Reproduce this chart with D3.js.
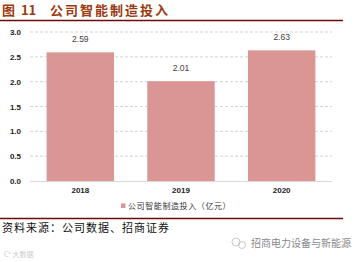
<!DOCTYPE html>
<html><head><meta charset="utf-8">
<script src="https://cdn.jsdelivr.net/npm/d3@7/dist/d3.min.js"></script>
<style>body{margin:0;background:#fff}svg{display:block}</style>
</head><body>
<svg id="c" width="362" height="262"></svg>
<script>
const categories = ["2018", "2019", "2020"];
const values = [2.59, 2.01, 2.63];
const yTicks = [0, 0.5, 1.0, 1.5, 2.0, 2.5, 3.0];
const seriesName = "公司智能制造投入（亿元）";
const titleNum = "图\u00a0\u00a011";
const titleText = "公司智能制造投入";
const sourceText = "资料来源：公司数据、招商证券";
const watermark = "招商电力设备与新能源";

const svg = d3.select("#c");
const cjk = "'Noto Sans CJK SC', 'Noto Sans', sans-serif";
const x = d3.scaleBand().domain(categories).range([30, 332]).paddingInner(0.33).paddingOuter(0.165);
const y = d3.scaleLinear().domain([0, 3]).range([181, 32]);

// title
svg.append("text").attr("x", 2).attr("y", 15).attr("font-family", cjk).attr("font-weight", "bold")
  .attr("font-size", 13).attr("fill", "#9c3a10").text(titleNum);
svg.append("text").attr("x", 50).attr("y", 15).attr("font-family", cjk).attr("font-weight", "bold")
  .attr("font-size", 13).attr("letter-spacing", 2).attr("fill", "#9c3a10").text(titleText);
svg.append("line").attr("x1", 0).attr("x2", 343).attr("y1", 20.5).attr("y2", 20.5)
  .attr("stroke", "#6e0b0b").attr("stroke-width", 1.5);

// grid
const grid = svg.append("g");
yTicks.filter(d => d > 0).forEach(t => {
  grid.append("line").attr("x1", 30).attr("x2", 332).attr("y1", y(t)).attr("y2", y(t))
    .attr("stroke", "#c8c8c8").attr("stroke-width", 0.8).attr("stroke-dasharray", "3,2");
});

// y axis
const yAxis = d3.axisLeft(y).tickValues(yTicks).tickFormat(d3.format(".1f")).tickSize(0).tickPadding(0);
const yg = svg.append("g").attr("transform", "translate(21,0)").call(yAxis);
yg.select(".domain").remove();
yg.selectAll("text").attr("font-family", "Arial, 'Liberation Sans', sans-serif").attr("font-size", 8)
  .attr("font-weight", "bold").attr("fill", "#222");

// bars
svg.append("g").selectAll("rect").data(values).join("rect")
  .attr("x", (d, i) => x(categories[i])).attr("width", x.bandwidth())
  .attr("y", d => y(d)).attr("height", d => y(0) - y(d)).attr("fill", "#d99694");

// baseline
svg.append("line").attr("x1", 30).attr("x2", 332).attr("y1", y(0) + 0.5).attr("y2", y(0) + 0.5)
  .attr("stroke", "#d9d9d9").attr("stroke-width", 1);

// value labels
svg.append("g").selectAll("text").data(values).join("text")
  .attr("x", (d, i) => x(categories[i]) + x.bandwidth() / 2).attr("y", d => y(d) - 10)
  .attr("text-anchor", "middle").attr("font-family", "Arial, 'Liberation Sans', sans-serif")
  .attr("font-size", 8.5).attr("fill", "#404040").text(d => d.toFixed(2));

// x axis
const xAxis = d3.axisBottom(x).tickSize(0).tickPadding(0);
const xg = svg.append("g").attr("transform", `translate(0,${y(0) + 6})`).call(xAxis);
xg.select(".domain").remove();
xg.selectAll("text").attr("font-family", "Arial, 'Liberation Sans', sans-serif").attr("font-size", 8)
  .attr("font-weight", "bold").attr("fill", "#222");

// legend
svg.append("rect").attr("x", 121).attr("y", 203.5).attr("width", 4.5).attr("height", 4.5).attr("fill", "#d99694");
svg.append("text").attr("x", 128).attr("y", 209).attr("font-family", cjk).attr("font-size", 8)
  .attr("letter-spacing", 0.6).attr("fill", "#333").text(seriesName);

// bottom rule
svg.append("line").attr("x1", 0).attr("x2", 343).attr("y1", 218.5).attr("y2", 218.5)
  .attr("stroke", "#6e0b0b").attr("stroke-width", 1.5);

// source
svg.append("text").attr("x", 2).attr("y", 232).attr("font-family", cjk).attr("font-size", 11)
  .attr("letter-spacing", 1).attr("fill", "#111").text(sourceText);

// watermark
svg.append("circle").attr("cx", 236).attr("cy", 242).attr("r", 4).attr("fill", "none").attr("stroke", "#bbb").attr("stroke-width", 0.8);
svg.append("circle").attr("cx", 242).attr("cy", 245).attr("r", 3.5).attr("fill", "none").attr("stroke", "#bbb").attr("stroke-width", 0.8);
svg.append("text").attr("x", 251).attr("y", 247).attr("font-family", cjk).attr("font-size", 10)
  .attr("fill", "#888").text(watermark);
svg.append("text").attr("x", 4).attr("y", 257).attr("font-family", cjk).attr("font-size", 7)
  .attr("fill", "#ccc").text("C⁼ 大数据");
</script>
</body></html>
